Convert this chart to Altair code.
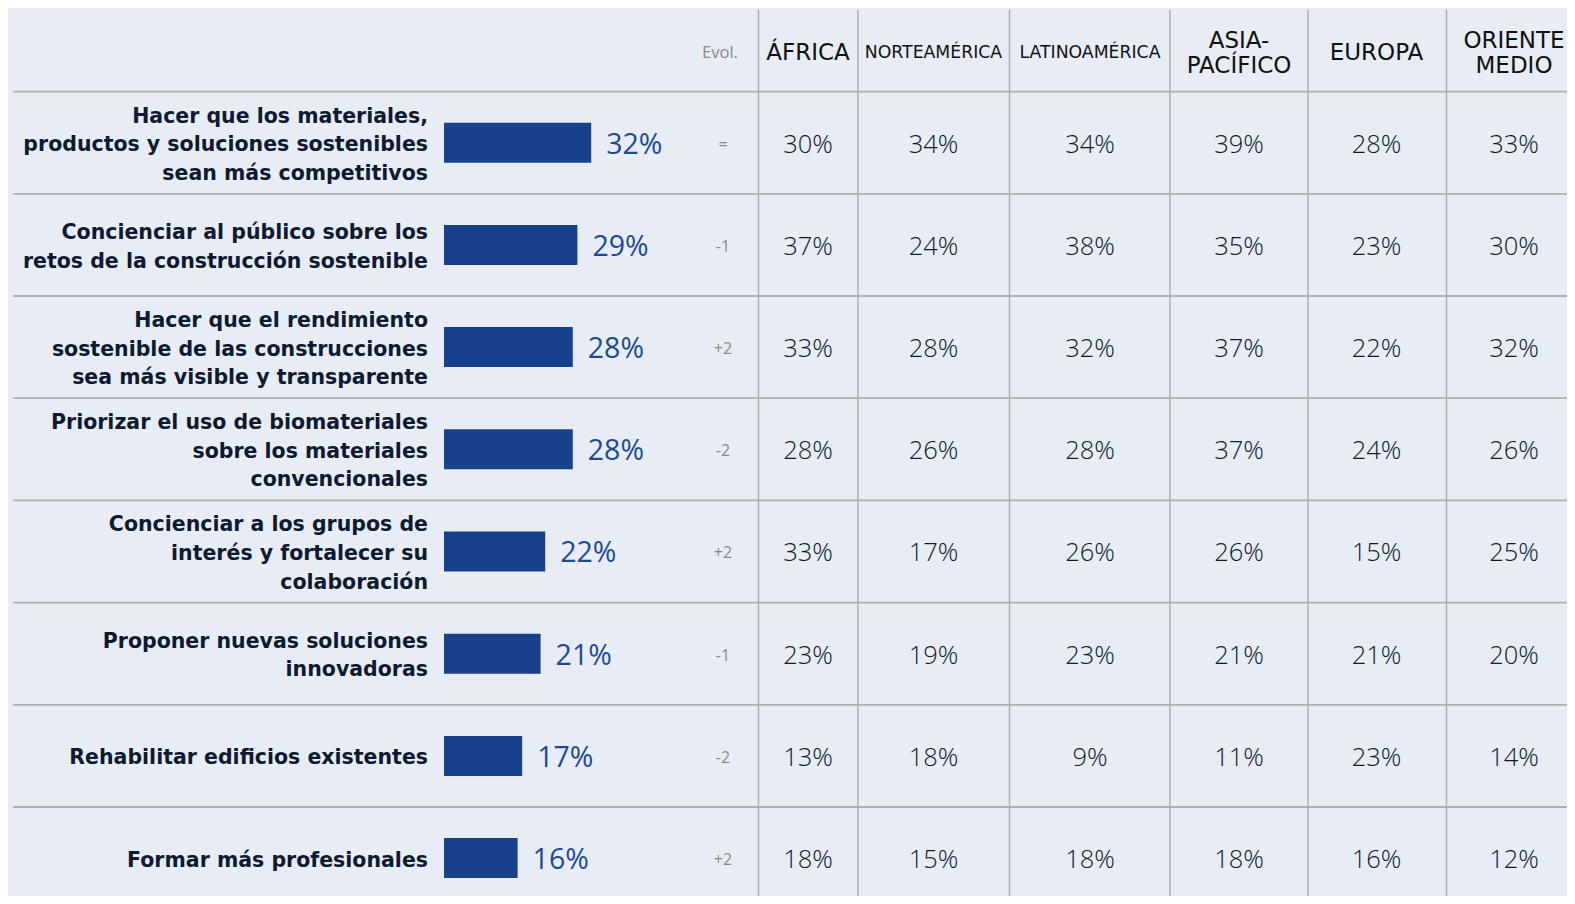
import altair as alt
import pandas as pd

labels = [
    "Hacer que los materiales,|productos y soluciones sostenibles|sean más competitivos",
    "Concienciar al público sobre los|retos de la construcción sostenible",
    "Hacer que el rendimiento|sostenible de las construcciones|sea más visible y transparente",
    "Priorizar el uso de biomateriales|sobre los materiales|convencionales",
    "Concienciar a los grupos  de|interés y fortalecer su|colaboración",
    "Proponer nuevas soluciones|innovadoras",
    "Rehabilitar edificios existentes",
    "Formar más profesionales",
]
totals = [32, 29, 28, 28, 22, 21, 17, 16]
evol = ["=", "-1", "+2", "-2", "+2", "-1", "-2", "+2"]
regions = ["ÁFRICA", "NORTEAMÉRICA", "LATINOAMÉRICA", "ASIA-|PACÍFICO", "EUROPA", "ORIENTE|MEDIO"]
africa = [30, 37, 33, 28, 33, 23, 13, 18]
norteamerica = [34, 24, 28, 26, 17, 19, 18, 15]
latinoamerica = [34, 38, 32, 28, 26, 23, 9, 18]
asiapacifico = [39, 35, 37, 37, 26, 21, 11, 18]
europa = [28, 23, 22, 24, 15, 21, 23, 16]
orientemedio = [33, 30, 32, 26, 25, 20, 14, 12]

# layout (pixels in chart coords)
W, H = 1559, 888
col_centers = [800, 925.5, 1082, 1231, 1368.5, 1506]
col_lines = [750.5, 850, 1001.5, 1162, 1300, 1438.5]
header_sizes = [23, 17.3, 17.3, 23, 23, 23]
ydom = [-1.318, 7.371]
ROW_PX = H / (ydom[1] - ydom[0])

bg = "#e8ecf5"
line_col = "#b0b0b0"
navy = "#0e1a30"
bar_col = "#17428b"
blue_txt = "#1d4a96"
gray_txt = "#8a8a8a"
LBL_FONT = "DejaVu Sans"
NUM_FONT = "Open Sans"

rows = pd.DataFrame({
    "row": list(range(len(labels))),
    "total": totals,
    "evol": evol,
})

# one entry per text line, centred as a block on its row
lbl_lines = []
LH = 28.6
for i, lab in enumerate(labels):
    parts = lab.split("|")
    n = len(parts)
    for k, p in enumerate(parts):
        lbl_lines.append({"y": i + (k - (n - 1) / 2) * LH / ROW_PX, "t": p})
lbl_lines = pd.DataFrame(lbl_lines)

cells = []
region_vals = [africa, norteamerica, latinoamerica, asiapacifico, europa, orientemedio]
for j, vals in enumerate(region_vals):
    for i, v in enumerate(vals):
        cells.append({"row": i, "xc": col_centers[j], "t": f"{v}%"})
cells = pd.DataFrame(cells)

hdr = []
HLH = 25.1
for j, name in enumerate(regions):
    parts = name.split("|")
    n = len(parts)
    for k, p in enumerate(parts):
        hdr.append({"xc": col_centers[j], "size": header_sizes[j],
                    "y": -0.9 + (k - (n - 1) / 2) * HLH / ROW_PX, "t": p})
hdr = pd.DataFrame(hdr)

xpix = alt.Scale(domain=[0, W], range=[0, W], nice=False, zero=False, padding=0)
ys = alt.Scale(domain=ydom, reverse=True, nice=False, zero=False, padding=0)
noax = None

hlines = pd.DataFrame({"y": [i - 0.5 for i in range(len(labels))], "x1": 5, "x2": W})
vlines = pd.DataFrame({"x": col_lines, "y1": -1.3, "y2": ydom[1]})

h_layer = alt.Chart(hlines).mark_rule(color=line_col, strokeWidth=1.8).encode(
    x=alt.X("x1:Q", scale=xpix, axis=noax), x2="x2:Q",
    y=alt.Y("y:Q", scale=ys, axis=noax),
)
v_layer = alt.Chart(vlines).mark_rule(color=line_col, strokeWidth=1.5).encode(
    x=alt.X("x:Q", scale=xpix, axis=noax),
    y=alt.Y("y1:Q", scale=ys, axis=noax), y2="y2:Q",
)

label_layer = alt.Chart(lbl_lines).mark_text(
    align="right", baseline="middle", font=LBL_FONT, fontWeight="bold",
    fontSize=20.5, color=navy, dy=2.5,
).encode(
    x=alt.value(420),
    y=alt.Y("y:Q", scale=ys, axis=noax),
    text="t:N",
)

pct = alt.Scale(domain=[0, 100], range=[436, 896], nice=False, zero=True, padding=0)
bar_layer = alt.Chart(rows).mark_bar(color=bar_col, size=40).encode(
    x=alt.X("total:Q", scale=pct, axis=noax),
    x2=alt.datum(0),
    y=alt.Y("row:Q", scale=ys, axis=noax),
)
val_layer = alt.Chart(rows).transform_calculate(
    t="datum.total + '%'"
).mark_text(
    align="left", baseline="middle", font=NUM_FONT, fontWeight=400,
    fontSize=28.5, color=blue_txt, dx=15, dy=2,
).encode(
    x=alt.X("total:Q", scale=pct, axis=noax),
    y=alt.Y("row:Q", scale=ys, axis=noax),
    text="t:N",
)

evol_layer = alt.Chart(rows).mark_text(
    align="center", baseline="middle", font=NUM_FONT, fontWeight=400,
    fontSize=16, color=gray_txt, dy=2,
).encode(
    x=alt.value(715),
    y=alt.Y("row:Q", scale=ys, axis=noax),
    text="evol:N",
)

cell_layer = alt.Chart(cells).mark_text(
    align="center", baseline="middle", font=NUM_FONT, fontWeight=300,
    fontSize=25.5, color=navy, dy=2,
).encode(
    x=alt.X("xc:Q", scale=xpix, axis=noax),
    y=alt.Y("row:Q", scale=ys, axis=noax),
    text="t:N",
)

hdr_layer = alt.Chart(hdr).mark_text(
    align="center", baseline="middle", font=LBL_FONT, color="#111111", dy=2.5,
).encode(
    x=alt.X("xc:Q", scale=xpix, axis=noax),
    y=alt.Y("y:Q", scale=ys, axis=noax),
    text="t:N",
    size=alt.Size("size:Q", scale=None, legend=None),
)

evol_hdr = alt.Chart(pd.DataFrame({"t": ["Evol."], "y": [-0.9]})).mark_text(
    align="center", baseline="middle", font=NUM_FONT, fontWeight=400,
    fontSize=16.5, color=gray_txt, dy=2.5,
).encode(
    x=alt.value(712),
    y=alt.Y("y:Q", scale=ys, axis=noax),
    text="t:N",
)

chart = alt.layer(
    h_layer, v_layer, label_layer, bar_layer, val_layer, evol_layer,
    cell_layer, hdr_layer, evol_hdr,
).resolve_scale(x="independent").properties(
    width=W, height=H, background=bg, padding=0,
    autosize=alt.AutoSizeParams(type="none"),
).configure_view(strokeWidth=0)

chart.save("out.html", embed_options={"renderer": "svg", "actions": False})
